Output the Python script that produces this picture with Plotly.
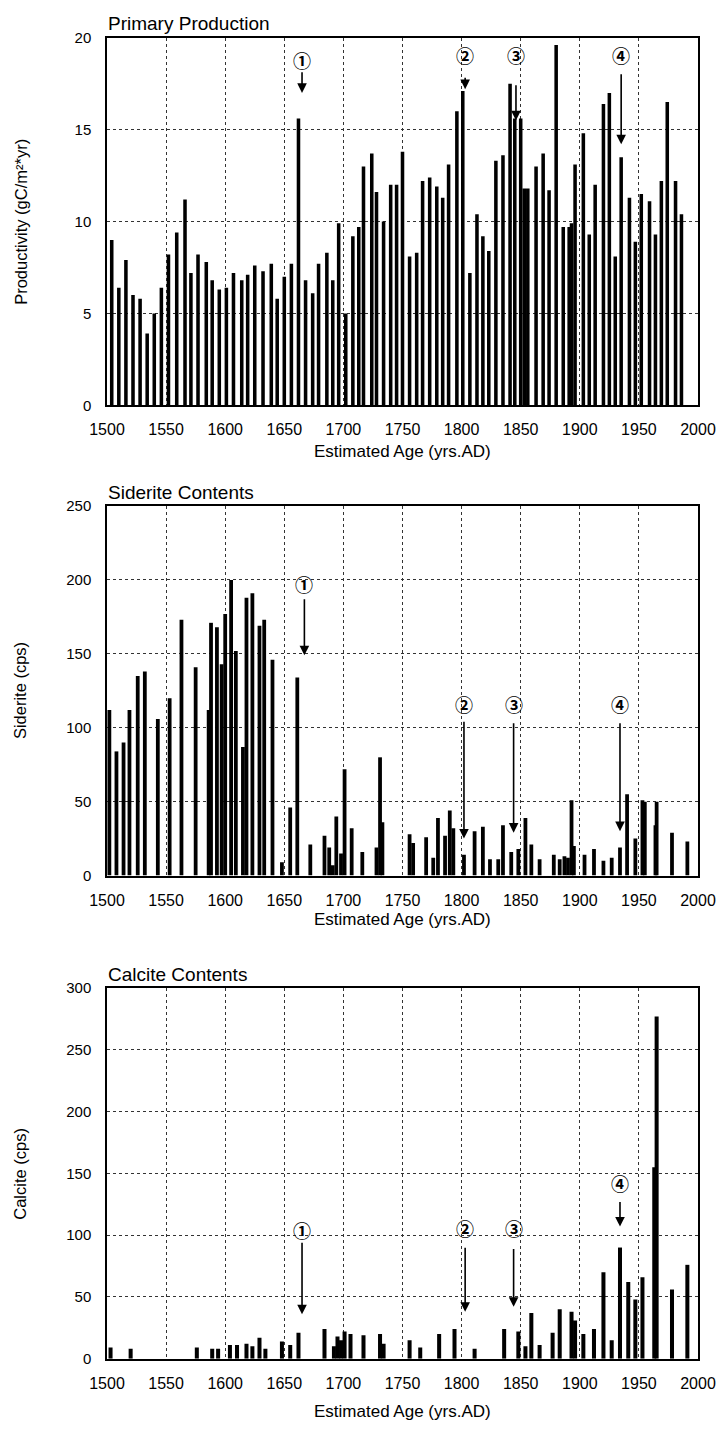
import plotly.graph_objects as go

# ---------------- data ----------------
pp_years = [1504, 1510, 1516, 1522, 1528, 1534, 1540, 1546, 1552, 1559, 1566, 1571, 1577, 1584, 1589,
            1595, 1601, 1607, 1614, 1619, 1625, 1632, 1639, 1644, 1650, 1656, 1662, 1668, 1674, 1679,
            1686, 1691, 1696, 1702, 1708, 1713, 1717, 1724, 1728, 1734, 1740, 1745, 1750, 1756, 1762,
            1767, 1773, 1779, 1784, 1789, 1796, 1801, 1807, 1813, 1818, 1823, 1829, 1835, 1841, 1845,
            1850, 1853, 1856, 1863, 1869, 1874, 1880, 1886, 1891, 1893, 1896, 1903, 1908, 1913, 1920,
            1925, 1930, 1935, 1942, 1947, 1952, 1959, 1964, 1969, 1974, 1981, 1986]
pp_values = [9.0, 6.4, 7.9, 6.0, 5.8, 3.9, 5.0, 6.4, 8.2, 9.4, 11.2, 7.2, 8.2, 7.8, 6.8,
             6.3, 6.4, 7.2, 6.8, 7.1, 7.6, 7.3, 7.7, 5.8, 7.0, 7.7, 15.6, 6.8, 6.1, 7.7,
             8.3, 6.8, 9.9, 5.0, 9.2, 9.7, 13.0, 13.7, 11.6, 10.0, 12.0, 12.0, 13.8, 8.1, 8.3,
             12.2, 12.4, 11.9, 11.3, 13.1, 16.0, 17.1, 7.2, 10.4, 9.2, 8.4, 13.3, 13.6, 17.5, 15.6,
             15.6, 11.8, 11.8, 13.0, 13.7, 11.7, 19.6, 9.7, 9.7, 9.9, 13.1, 14.8, 9.3, 12.0, 16.4,
             17.0, 8.1, 13.5, 11.3, 8.9, 11.5, 11.1, 9.3, 12.2, 16.5, 12.2, 10.4]

sid_years = [1502, 1508, 1514, 1519, 1526, 1532, 1543, 1553, 1563, 1575, 1586, 1588, 1593, 1597, 1600,
             1605, 1609, 1615, 1618, 1623, 1629, 1633, 1640, 1648, 1655, 1661, 1672, 1684, 1688, 1691,
             1694, 1698, 1701, 1707, 1716, 1728, 1731, 1733, 1756, 1759, 1770, 1776, 1780, 1786, 1790,
             1793, 1802, 1811, 1818, 1824, 1831, 1835, 1842, 1848, 1854, 1859, 1866, 1878, 1883, 1887,
             1890, 1893, 1895, 1904, 1912, 1920, 1927, 1934, 1940, 1947, 1953, 1955, 1964, 1965, 1978,
             1991]
sid_values = [112, 84, 90, 112, 135, 138, 106, 120, 173, 141, 112, 171, 168, 143, 177,
              200, 152, 87, 188, 191, 169, 173, 146, 9, 46, 134, 21, 27, 19, 7,
              40, 15, 72, 32, 16, 19, 80, 36, 28, 22, 26, 12, 39, 27, 44,
              32, 14, 30, 33, 11, 11, 34, 16, 18, 39, 21, 11, 14, 11, 13,
              12, 51, 20, 14, 18, 10, 12, 19, 55, 25, 51, 50, 34, 50, 29,
              23]

cal_years = [1503, 1520, 1576, 1589, 1594, 1604, 1610, 1618, 1623, 1629, 1634, 1648, 1655, 1662, 1684,
             1692, 1695, 1698, 1701, 1706, 1717, 1731, 1734, 1756, 1765, 1781, 1794, 1811, 1836, 1848,
             1854, 1859, 1866, 1877, 1883, 1893, 1896, 1903, 1912, 1920, 1927, 1934, 1941, 1947, 1953,
             1963, 1965, 1978, 1991]
cal_values = [9, 8, 9, 8, 8, 11, 11, 12, 10, 17, 8, 14, 11, 21, 24,
              10, 18, 15, 22, 20, 19, 20, 12, 15, 9, 20, 24, 8, 24, 22,
              10, 37, 11, 21, 40, 38, 31, 20, 24, 70, 15, 90, 62, 48, 66,
              155, 277, 56, 76]

x_ticks = [1500, 1550, 1600, 1650, 1700, 1750, 1800, 1850, 1900, 1950, 2000]
pp_ticks = [0, 5, 10, 15, 20]
sid_ticks = [0, 50, 100, 150, 200, 250]
cal_ticks = [0, 50, 100, 150, 200, 250, 300]

panel_titles = ["Primary Production", "Siderite Contents", "Calcite Contents"]
y_titles = ["Productivity (gC/m\u00b2*yr)", "Siderite (cps)", "Calcite (cps)"]
x_title = "Estimated Age (yrs.AD)"
marker_labels = ["\u2460", "\u2461", "\u2462", "\u2463"]

# arrows: (x year, label y, tail y, tip y) per panel
pp_marks = [(1665, 18.8, 18.2, 17.0), (1803, 19.05, 17.9, 17.2), (1846, 19.05, 17.5, 15.5), (1935, 19.05, 18.1, 14.2)]
sid_marks = [(1667, 197, 188, 149), (1802, 116, 105, 25), (1844, 116, 104, 29), (1934, 116, 104, 30)]
cal_marks = [(1665, 104, 95, 36), (1803, 106, 91, 38), (1844, 106, 90, 42), (1934, 142, 128, 107)]

# ---------------- layout helpers (page has an 8px body margin) ----------------
OFF = 8
W, H = 724 - 2 * OFF, 1431 - 2 * OFF
PLOT_L, PLOT_R = 107, 700          # reference pixel x of plot area
L = PLOT_L - OFF
R = W - (PLOT_R - OFF)
plot_w = PLOT_R - PLOT_L
FONT = "Liberation Sans, Arial, sans-serif"


def px_x(ref_x):
    return (ref_x - PLOT_L) / plot_w


def px_y(ref_y):
    return 1 - (ref_y - OFF) / H


panels = [(29, 401), (503, 877), (991, 1366)]     # top/bottom reference rows of each plot area
xtitle_off = [47, 44, 53]
series = [(pp_years, pp_values, 3.0), (sid_years, sid_values, 3.2), (cal_years, cal_values, 3.4)]
yranges = [[0, 20], [0, 250], [0, 300]]
yticks = [pp_ticks, sid_ticks, cal_ticks]
marks = [pp_marks, sid_marks, cal_marks]

fig = go.Figure()
layout = dict(width=W, height=H, margin=dict(l=L, r=R, t=0, b=0),
              plot_bgcolor="white", paper_bgcolor="white", showlegend=False,
              barmode="overlay", font=dict(family=FONT, size=15, color="black"))

annotations = []
for i in range(3):
    xs, ys, w = series[i]
    sfx = "" if i == 0 else str(i + 1)
    top, bot = panels[i]
    fig.add_trace(go.Bar(x=xs, y=ys, width=[w] * len(xs), marker=dict(color="black", line=dict(width=0)),
                         xaxis="x" + sfx, yaxis="y" + sfx))
    layout["xaxis" + sfx] = dict(domain=[0, 1], range=[1500, 2000], anchor="y" + sfx,
                                 tickvals=x_ticks, ticks="", showline=True, linecolor="black", linewidth=1.5,
                                 mirror=True, showgrid=True, gridcolor="#333", griddash="dot", gridwidth=1,
                                 ticklabelstandoff=9, ticklabeloverflow="allow",
                                 tickfont=dict(size=16, family=FONT), zeroline=False)
    layout["yaxis" + sfx] = dict(domain=[px_y(bot), px_y(top)], range=yranges[i], anchor="x" + sfx,
                                 tickvals=yticks[i], ticks="", showline=True, linecolor="black", linewidth=1.5,
                                 mirror=True, showgrid=True, gridcolor="#333", griddash="dot", gridwidth=1,
                                 ticklabelstandoff=11, tickfont=dict(size=15, family=FONT), zeroline=False)
    # panel title
    annotations.append(dict(text=panel_titles[i], xref="paper", yref="paper", x=px_x(106), y=px_y(top - 14),
                            xanchor="left", yanchor="middle", showarrow=False,
                            font=dict(size=19, family=FONT)))
    # y title
    annotations.append(dict(text=y_titles[i], xref="paper", yref="paper", x=px_x(20), y=px_y((top + bot) / 2),
                            xanchor="center", yanchor="middle", textangle=-90, showarrow=False,
                            font=dict(size=16.5, family=FONT)))
    # x title
    annotations.append(dict(text=x_title, xref="paper", yref="paper", x=0.5, y=px_y(bot + xtitle_off[i]),
                            xanchor="center", yanchor="middle", showarrow=False,
                            font=dict(size=17, family=FONT)))
    # circled markers + arrows
    for k, (mx, ly, tail, tip) in enumerate(marks[i]):
        annotations.append(dict(text="<b>" + marker_labels[k] + "</b>", xref="x" + sfx, yref="y" + sfx,
                                x=mx, y=ly, showarrow=False, xanchor="center", yanchor="middle",
                                font=dict(size=18, family="Noto Sans CJK JP, DejaVu Sans", color="black")))
        annotations.append(dict(text="", xref="x" + sfx, yref="y" + sfx, x=mx, y=tip,
                                axref="x" + sfx, ayref="y" + sfx, ax=mx, ay=tail,
                                showarrow=True, arrowhead=2, arrowsize=1.2, arrowwidth=1.6,
                                arrowcolor="black"))

layout["annotations"] = annotations
fig.update_layout(**layout)
fig.write_html("out.html")
